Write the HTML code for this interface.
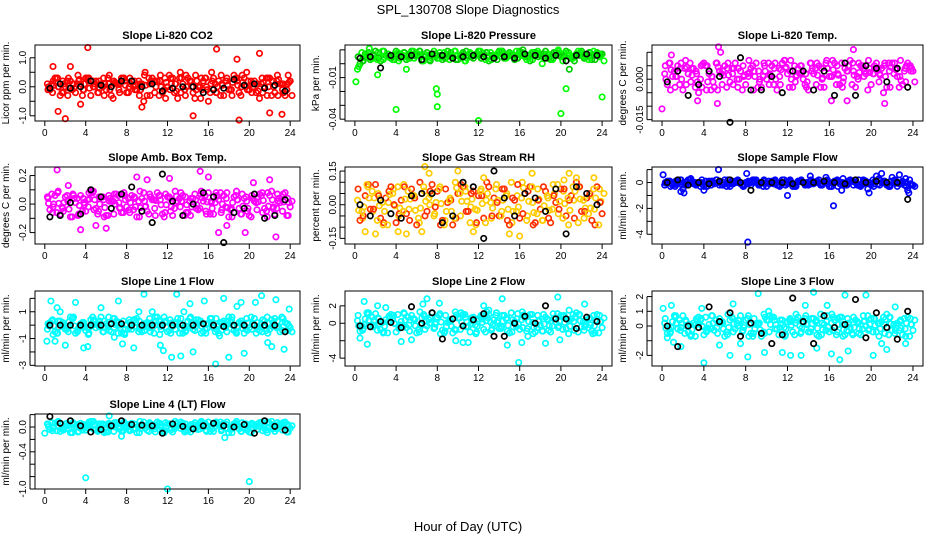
<!DOCTYPE html>
<html><head><meta charset="utf-8"><style>
html,body{margin:0;padding:0;background:#fff;}
svg{display:block;font-family:"Liberation Sans",Arial,sans-serif;}
</style></head><body>
<svg id="chart" width="936" height="540" viewBox="0 0 936 540">
<text x="468" y="14" text-anchor="middle" font-size="13">SPL_130708  Slope Diagnostics</text>
<text x="468" y="531" text-anchor="middle" font-size="13">Hour of Day (UTC)</text>
</svg>
<script>
// ---- data ----
const xTicks=[0,4,8,12,16,20,24];
const hoursAB=[];for(let i=0;i<48;i++)hoursAB.push(i*0.5+0.25);
const hoursK=[];for(let i=0;i<24;i++)hoursK.push(i+0.5);

const co2A=[0.1,-0.2,0.3,0.2,-0.3,0.1,0.4,-0.1,0.2,0.0,-0.2,0.3,0.1,0.2,-0.1,0.3,0.0,0.2,-0.3,0.4,0.1,-0.2,0.2,0.3,-0.1,0.1,0.5,-0.3,0.2,0.4,-0.4,0.3,0.1,-0.2,0.4,0.2,-0.1,0.3,0.0,0.5,-0.2,0.1,0.3,-0.3,0.2,0.4,-0.1,0.1];
const co2B=[-0.1,0.3,-0.3,0.0,0.2,-0.2,0.1,0.3,-0.3,0.2,0.1,-0.1,-0.3,0.1,0.3,-0.2,0.2,-0.1,0.1,-0.3,0.3,0.2,-0.2,0.0,0.3,-0.4,0.1,0.3,-0.2,0.0,0.2,-0.5,0.3,0.2,-0.3,-0.1,0.4,-0.2,0.3,-0.1,0.2,-0.4,0.0,0.3,-0.2,0.1,-0.3,0.2];
const co2OutX=[4.2,16.8,21,19,2,9.5,14.5,1.3,22,23.2,3.5,18.8,0.8,2.5];
const co2OutY=[1.35,1.3,1.15,-1.15,-1.1,-0.7,-1.0,-0.85,-0.9,-0.95,-0.6,0.95,0.7,0.7];
const co2K=[-0.05,0.1,-0.05,0.0,0.2,0.05,0.0,0.2,0.2,0.0,0.1,-0.15,-0.05,0.0,0.0,-0.2,-0.1,-0.05,0.25,0.05,0.1,-0.05,0.05,-0.15];

const prA=[-0.004,0.002,0.006,0.004,0.008,0.003,0.007,0.005,0.002,0.008,0.006,0.004,0.009,0.005,0.003,0.007,0.008,0.004,0.006,0.009,0.005,0.002,0.007,0.006,0.004,0.008,0.003,0.006,0.009,0.005,0.007,0.004,0.008,0.006,0.003,0.009,0.005,0.007,0.004,0.010,0.006,0.008,0.005,0.007,0.004,0.008,0.006,0.005];
const prB=[0.000,0.007,0.003,0.009,0.002,0.006,0.004,0.009,0.006,0.003,0.009,0.007,0.002,0.008,0.006,0.004,0.003,0.009,0.005,0.003,0.008,0.006,0.004,0.009,0.007,0.002,0.006,0.009,0.004,0.008,0.003,0.009,0.005,0.002,0.008,0.006,0.009,0.003,0.008,0.005,0.009,0.004,0.007,0.009,0.006,0.003,0.008,0.007];
const prOutX=[0.1,4,8,8,7.9,12,20,20.5,24,1.4,5,2.2];
const prOutY=[-0.013,-0.033,-0.031,-0.022,-0.018,-0.041,-0.036,-0.018,-0.024,0.011,-0.004,-0.008];
const prK=[0.004,0.005,-0.003,0.006,0.005,0.006,0.003,0.007,0.006,0.004,0.005,0.006,0.005,0.004,0.005,0.004,0.007,0.006,0.004,0.006,0.002,0.006,0.007,0.006];

const tA=[0.002,0.006,-0.003,0.004,0.007,-0.001,0.003,0.005,-0.004,0.001,0.006,-0.002,0.004,0.002,-0.003,0.005,0.001,-0.004,0.003,0.006,-0.002,0.004,0.001,0.007,0.003,-0.001,0.005,0.002,0.006,-0.002,0.004,0.007,0.001,0.005,-0.003,0.003,0.006,0.000,0.004,0.007,0.002,-0.001,0.005,0.003,0.006,0.001,0.004,0.005];
const tB=[-0.002,0.001,0.005,-0.004,0.002,0.004,-0.005,0.006,0.002,-0.003,0.003,0.005,-0.001,0.006,0.003,-0.002,0.004,0.006,-0.003,0.000,0.005,-0.004,0.006,0.002,-0.003,0.004,0.000,-0.004,0.002,0.005,-0.003,0.001,0.006,-0.002,0.004,0.007,-0.003,0.005,0.002,-0.002,0.006,0.004,-0.003,0.006,0.001,-0.002,0.006,0.003];
const tOutX=[0,5.4,0.9,5.6,18.3,21.3,3.4,5.3,16.2,17.7];
const tOutY=[-0.011,0.012,0.009,0.010,0.011,-0.009,-0.008,-0.009,-0.008,-0.008];
const tK=[-0.001,0.003,-0.006,-0.002,0.003,0.001,-0.016,0.008,-0.004,-0.004,0.001,-0.005,0.003,0.003,-0.004,0.003,-0.006,0.006,-0.006,0.005,0.004,-0.001,0.004,-0.003];

const abA=[0.05,-0.06,0.08,-0.03,0.02,0.07,-0.08,0.04,-0.02,0.09,-0.05,0.03,0.06,-0.07,0.01,0.08,-0.04,0.05,-0.09,0.02,0.07,-0.03,0.06,-0.06,0.04,0.09,-0.02,0.05,-0.08,0.03,0.07,-0.05,0.01,0.08,-0.06,0.04,-0.03,0.09,-0.07,0.02,0.06,-0.04,0.08,-0.09,0.03,0.07,-0.05,0.04];
const abB=[-0.04,0.06,-0.07,0.05,-0.09,0.01,0.06,-0.05,0.09,-0.03,0.05,-0.08,0.02,0.07,-0.06,-0.02,0.06,-0.09,0.04,-0.05,0.03,0.08,-0.07,0.05,-0.08,0.02,0.06,-0.06,0.04,-0.04,0.02,0.08,-0.07,0.03,0.06,-0.09,0.05,-0.03,0.04,-0.08,0.02,0.07,-0.03,0.06,-0.07,0.01,0.08,-0.02];
const abOutX=[1.2,3.5,5,6,9,10,15.2,16,17,19.6,22,22.6,2.3,12.2,17.8,20.4];
const abOutY=[0.24,-0.18,-0.15,-0.17,0.19,0.17,0.23,0.19,-0.2,-0.2,0.17,-0.23,0.13,0.18,-0.15,0.15];
const abK=[-0.09,-0.08,0.01,-0.07,0.1,0.05,-0.03,0.07,0.12,-0.05,-0.13,0.21,0.02,-0.08,0.0,0.08,0.05,-0.27,-0.06,-0.03,0.07,-0.1,-0.08,0.03];

const rhA=[0.02,-0.06,0.08,-0.03,0.05,-0.09,0.01,0.07,-0.05,0.09,-0.02,0.04,-0.08,0.06,0.0,-0.04,0.08,-0.07,0.03,0.1,-0.05,0.06,-0.01,-0.09,0.07,0.02,-0.06,0.09,-0.03,0.05,-0.08,0.04,0.1,-0.05,0.01,0.07,-0.07,0.03,0.09,-0.04,0.06,-0.09,0.02,0.08,-0.06,0.04,-0.02,0.07];
const rhB=[-0.07,0.04,-0.02,0.09,-0.06,0.03,0.08,-0.08,0.02,-0.04,0.07,-0.09,0.05,-0.03,0.09,0.06,-0.07,0.01,-0.09,0.05,0.08,-0.03,0.06,0.04,-0.06,0.08,0.03,-0.05,0.07,-0.09,0.02,-0.06,0.05,0.08,-0.08,-0.02,0.06,-0.08,0.01,0.07,-0.05,0.04,0.1,-0.03,0.03,-0.07,0.08,-0.04];
const rhOutX=[1,2,4.2,5,6.5,6.8,7.2,10,11.5,12.5,15,16,17.2,20.8,21.5,23.2,20.3];
const rhOutY=[-0.12,-0.13,-0.12,-0.13,-0.12,0.17,0.14,0.15,-0.12,0.12,-0.13,-0.14,0.14,0.14,0.12,0.12,0.11];
const rhK=[0.0,-0.05,0.02,-0.04,-0.06,0.04,0.05,0.05,-0.08,-0.05,0.1,0.08,-0.15,0.15,0.03,-0.05,0.05,0.03,-0.03,0.07,-0.13,0.08,0.05,0.0];

const sfA=[-0.2,0.1,-0.3,0.2,-0.1,0.3,-0.2,0.0,-0.3,0.1,0.2,-0.2,0.0,-0.1,0.2,-0.3,0.1,0.0,-0.2,0.2,-0.1,0.1,-0.3,0.0,0.2,-0.2,0.1,-0.1,0.2,0.0,-0.2,0.1,-0.3,0.2,0.0,-0.1,0.1,-0.2,0.2,0.0,-0.3,0.3,0.1,-0.2,0.2,-0.1,0.0,-0.1];
const sfB=[0.1,-0.2,0.0,-0.5,0.2,-0.1,0.0,-0.3,0.1,-0.1,-0.2,0.2,-0.3,0.1,-0.1,0.0,-0.2,0.2,0.0,-0.3,0.1,-0.2,0.2,-0.1,-0.3,0.1,0.0,-0.2,-0.1,0.2,0.0,-0.3,0.1,-0.1,-0.2,0.2,0.0,-0.3,0.1,-0.2,0.5,0.0,-0.2,0.4,-0.3,0.1,-0.6,-0.2];
const sfOutX=[0.1,1.8,2.1,4,5.4,8.2,8.1,12,16.4,19.8,23.6,22.7,21];
const sfOutY=[0.6,-0.7,-0.8,-0.6,1.0,-4.6,0.7,-1.0,-1.8,-0.8,-0.8,0.6,0.7];
const sfK=[0.0,0.2,-0.2,0.0,-0.1,0.1,0.2,0.0,-0.6,0.0,0.0,0.0,-0.1,0.0,0.0,0.1,0.0,-0.1,0.2,0.0,0.1,0.0,0.0,-1.3];

const l1A=[-0.3,0.4,-0.6,0.2,-0.1,0.5,-0.4,0.1,-0.7,0.3,0.0,-0.5,0.6,-0.2,0.2,-0.6,0.4,-0.1,0.3,-0.4,0.5,0.0,-0.7,0.2,0.4,-0.3,0.1,-0.5,0.6,-0.1,0.3,-0.6,0.2,0.5,-0.4,0.0,0.4,-0.6,0.1,0.5,-0.3,0.2,-0.5,0.6,-0.1,0.3,-0.4,0.1];
const l1B=[0.2,-0.5,0.3,-0.3,0.6,-0.6,0.1,-0.4,0.4,-0.2,0.6,0.1,-0.5,0.3,-0.6,0.0,-0.3,0.5,-0.5,0.2,-0.2,0.6,0.1,-0.5,-0.1,0.5,-0.6,0.3,-0.3,0.4,-0.5,0.1,-0.2,-0.6,0.3,0.6,-0.4,0.2,-0.6,-0.2,0.5,-0.4,0.3,-0.3,0.5,-0.5,0.2,-0.2];
const l1OutX=[0.2,0.6,1,1.2,2,3,3.8,4.2,5.5,7.2,7.6,8.7,9.7,10.5,11.3,12.4,12.9,13.3,14.2,14.5,15.6,16.7,17.5,18,18.8,19.5,20.6,21.2,22.2,22.6,23.4,23.9,11.6,1.5,6.8,9.2,13.6,17.1,19.2,21.8];
const l1OutY=[-1.2,1.8,-1.2,1.3,-1.5,1.7,-1.7,-1.6,1.3,1.8,-1.4,-1.7,2.3,1.0,-1.5,-2.4,2.3,-2.3,1.6,-2.0,1.8,-2.9,2.0,-2.4,1.4,-2.1,1.7,2.2,-1.6,1.9,-1.8,1.2,-1.9,1.0,-0.9,1.0,1.0,-0.8,1.7,-1.3];
const l1K=[0.0,0.0,0.0,0.0,0.0,0.0,0.1,0.1,0.0,0.0,0.0,0.0,0.0,0.0,0.0,0.1,0.0,-0.1,0.0,0.0,0.0,0.0,0.0,-0.5];

const l2A=[0.3,-0.8,1.0,-0.4,0.6,-1.1,0.2,0.9,-0.6,1.2,-0.2,0.5,-1.0,0.8,0.0,-0.5,1.1,-0.9,0.4,1.3,-0.7,0.7,-0.1,-1.2,0.9,0.3,-0.8,1.2,-0.4,0.6,-1.0,0.5,1.3,-0.6,0.1,0.9,-0.9,0.4,1.1,-0.5,0.8,-1.2,0.2,1.0,-0.8,0.5,-0.3,0.9];
const l2B=[-0.9,0.5,-0.3,1.1,-0.7,0.4,1.0,-1.0,0.2,-0.5,0.9,-1.1,0.6,-0.3,1.2,0.7,-0.8,0.1,-1.1,0.6,1.0,-0.4,0.7,0.5,-0.7,1.0,0.4,-0.6,0.9,-1.1,0.2,-0.7,0.6,1.0,-1.0,-0.2,0.7,-1.0,0.1,0.9,-0.6,0.5,1.2,-0.4,0.4,-0.9,1.0,-0.5];
const l2OutX=[0.9,1.2,0.5,2.2,3,5.5,6.6,7,8.2,9.8,10.5,13,14.3,14.8,15.9,16.2,16.8,19.7,19.9,20.8,22.3,23.1,12.5,4.5,11.0,18.5];
const l2OutY=[2.5,-2.4,-1.7,2.0,1.8,-1.9,2.2,2.8,2.3,-2.0,-2.2,1.5,2.8,-2.5,-4.5,-2.2,-1.5,3.0,-1.9,1.5,2.2,-1.2,2.0,-2.1,-2.2,-2.3];
const l2K=[-0.3,-0.4,0.2,0.1,-0.5,1.9,0.0,1.2,-1.8,0.5,-0.3,0.4,1.1,-1.5,-1.5,0.0,0.8,0.0,2.0,0.5,0.5,-0.6,0.7,0.2];

const l3A=[0.2,-0.5,0.6,-0.3,0.4,-0.7,0.1,0.5,-0.4,0.7,-0.1,0.3,-0.6,0.5,0.0,-0.3,0.7,-0.5,0.2,0.8,-0.4,0.4,-0.1,-0.7,0.5,0.2,-0.5,0.7,-0.2,0.4,-0.6,0.3,0.8,-0.4,0.1,0.5,-0.6,0.2,0.7,-0.3,0.5,-0.7,0.1,0.6,-0.5,0.3,-0.2,0.5];
const l3B=[-0.5,0.3,-0.2,0.7,-0.4,0.2,0.6,-0.6,0.1,-0.3,0.5,-0.7,0.4,-0.2,0.7,0.4,-0.5,0.1,-0.7,0.4,0.6,-0.2,0.4,0.3,-0.4,0.6,0.2,-0.4,0.5,-0.7,0.1,-0.4,0.4,0.6,-0.6,-0.1,0.4,-0.6,0.0,0.5,-0.4,0.3,0.8,-0.3,0.2,-0.6,0.6,-0.3];
const l3OutX=[0.1,0.5,1.1,1.8,3.8,4,5.5,6.5,6.8,8.2,9.2,9.8,10.2,11.5,12.3,13.3,13.7,14.5,14.8,15.8,16.2,17,17.5,17.8,19.5,20.2,21,22.3,21.5,23.3,0.9,7.5];
const l3OutY=[1.2,-0.8,-1.1,-1.4,1.2,-2.5,-1.3,-2.0,1.5,-2.1,2.2,-1.8,1.0,-1.8,-2.0,-2.0,1.4,2.3,-1.5,1.4,-1.9,-2.3,2.1,-1.7,2.1,-2.0,-1.2,1.3,-1.6,-1.2,1.4,-1.2];
const l3K=[0.0,-1.4,0.0,-0.1,1.3,0.3,0.9,-0.7,0.2,-0.5,-1.2,-0.6,1.9,0.3,-1.2,0.7,-0.1,0.1,1.8,-0.8,0.9,-0.1,-0.9,1.0];

const l4A=[0.05,-0.06,0.08,-0.03,0.02,0.07,-0.08,0.04,-0.02,0.09,-0.05,0.03,0.06,-0.07,0.01,0.08,-0.04,0.05,-0.09,0.02,0.07,-0.03,0.06,-0.06,0.04,0.09,-0.02,0.05,-0.08,0.03,0.07,-0.05,0.01,0.08,-0.06,0.04,-0.03,0.09,-0.07,0.02,0.06,-0.04,0.08,-0.09,0.03,0.07,-0.05,0.04];
const l4B=[-0.04,0.06,-0.07,0.05,-0.09,0.01,0.06,-0.05,0.09,-0.03,0.05,-0.08,0.02,0.07,-0.06,-0.02,0.06,-0.09,0.04,-0.05,0.03,0.08,-0.07,0.05,-0.08,0.02,0.06,-0.06,0.04,-0.04,0.02,0.08,-0.07,0.03,0.06,-0.09,0.05,-0.03,0.04,-0.08,0.02,0.07,-0.03,0.06,-0.07,0.01,0.08,-0.02];
const l4OutX=[4,12,20,0,6.3,7.5,17.6];
const l4OutY=[-0.82,-1.0,-0.88,-0.1,0.18,-0.15,-0.17];
const l4K=[0.17,0.06,0.1,0.02,-0.08,-0.04,0.02,0.1,0.04,0.03,0.02,-0.1,0.05,0.01,-0.03,0.02,0.06,0.02,0.0,0.04,-0.1,0.1,0.01,-0.05];

// ---- panel layout ----
const panels=[
 {id:'co2',title:'Slope Li-820 CO2',ylab:'Licor ppm per min.',L:35,R:300,T:45,B:121,ymin:-1.18,ymax:1.44,ticks:[-1,-0.5,0,0.5,1],labels:[[-1,'-1.0'],[0,'0.0'],[1,'1.0']],col:'#ff0000',col2:'#ff0000',A:co2A,Bv:co2B,OX:co2OutX,OY:co2OutY,K:co2K},
 {id:'pressure',title:'Slope Li-820 Pressure',ylab:'kPa per min.',L:345,R:612,T:45,B:121,ymin:-0.0413,ymax:0.0135,ticks:[0.01,0,-0.01,-0.02,-0.03,-0.04],labels:[[-0.01,'-0.01'],[-0.04,'-0.04']],col:'#00ff00',col2:'#00cc00',A:prA,Bv:prB,OX:prOutX,OY:prOutY,K:prK},
 {id:'li820-temp',title:'Slope Li-820 Temp.',ylab:'degrees C per min.',L:652,R:923,T:45,B:121,ymin:-0.0155,ymax:0.0127,ticks:[0.01,0.005,0,-0.005,-0.01,-0.015],labels:[[0,'0.000'],[-0.015,'-0.015']],col:'#ff00ff',col2:'#ff00ff',A:tA,Bv:tB,OX:tOutX,OY:tOutY,K:tK},
 {id:'amb-box-temp',title:'Slope Amb. Box Temp.',ylab:'degrees C per min.',L:35,R:300,T:167,B:244,ymin:-0.28,ymax:0.26,ticks:[-0.2,-0.1,0,0.1,0.2],labels:[[-0.2,'-0.2'],[0,'0.0'],[0.2,'0.2']],col:'#ff00ff',col2:'#ff00ff',A:abA,Bv:abB,OX:abOutX,OY:abOutY,K:abK},
 {id:'gas-rh',title:'Slope Gas Stream RH',ylab:'percent per min.',L:345,R:612,T:167,B:244,ymin:-0.175,ymax:0.168,ticks:[-0.15,-0.1,-0.05,0,0.05,0.1,0.15],labels:[[-0.15,'-0.15'],[0,'0.00'],[0.15,'0.15']],col:'#ffcc00',col2:'#ff3000',A:rhA,Bv:rhB,OX:rhOutX,OY:rhOutY,K:rhK},
 {id:'sample-flow',title:'Slope Sample Flow',ylab:'ml/min per min.',L:652,R:923,T:167,B:244,ymin:-4.75,ymax:1.2,ticks:[-4,-3,-2,-1,0,1],labels:[[-4,'-4'],[-2,'-2'],[0,'0']],col:'#0000ff',col2:'#0000ff',A:sfA,Bv:sfB,OX:sfOutX,OY:sfOutY,K:sfK},
 {id:'line1-flow',title:'Slope Line 1 Flow',ylab:'ml/min per min.',L:35,R:300,T:291,B:366,ymin:-3.05,ymax:2.55,ticks:[-3,-2,-1,0,1,2],labels:[[-3,'-3'],[-1,'-1'],[1,'1']],col:'#00ffff',col2:'#00ffff',A:l1A,Bv:l1B,OX:l1OutX,OY:l1OutY,K:l1K},
 {id:'line2-flow',title:'Slope Line 2 Flow',ylab:'ml/min per min.',L:345,R:612,T:291,B:366,ymin:-4.9,ymax:3.7,ticks:[-4,-2,0,2],labels:[[-4,'-4'],[0,'0'],[2,'2']],col:'#00ffff',col2:'#00ffff',A:l2A,Bv:l2B,OX:l2OutX,OY:l2OutY,K:l2K},
 {id:'line3-flow',title:'Slope Line 3 Flow',ylab:'ml/min per min.',L:652,R:923,T:291,B:366,ymin:-2.72,ymax:2.38,ticks:[-2,-1,0,1,2],labels:[[-2,'-2'],[0,'0'],[1,'1'],[2,'2']],col:'#00ffff',col2:'#00ffff',A:l3A,Bv:l3B,OX:l3OutX,OY:l3OutY,K:l3K},
 {id:'line4-flow',title:'Slope Line 4 (LT) Flow',ylab:'ml/min per min.',L:35,R:300,T:414,B:489,ymin:-1.0,ymax:0.21,ticks:[-1,-0.8,-0.6,-0.4,-0.2,0,0.2],labels:[[-1,'-1.0'],[-0.4,'-0.4'],[0,'0.0']],col:'#00ffff',col2:'#00ffff',A:l4A,Bv:l4B,OX:l4OutX,OY:l4OutY,K:l4K}
];

const svg=document.getElementById('chart');
const NS='http://www.w3.org/2000/svg';
function mk(tag,attrs,parent){const e=document.createElementNS(NS,tag);for(const k in attrs)e.setAttribute(k,attrs[k]);parent.appendChild(e);return e;}

panels.forEach(p=>{
  const g=mk('g',{},svg);
  
  
  const xs=h=>p.L+(h+0.96)/25.92*(p.R-p.L);
  const ys=v=>p.B-(v-p.ymin)/(p.ymax-p.ymin)*(p.B-p.T);
  const t=mk('text',{x:(p.L+p.R)/2,y:p.T-6,'text-anchor':'middle','font-size':'11','font-weight':'bold'},g);
  t.textContent=p.title;
  
  
  const yl=mk('text',{x:0,y:0,'text-anchor':'middle','font-size':'10',transform:`translate(${p.L-26},${(p.T+p.B)/2}) rotate(-90)`},g);
  yl.textContent=p.ylab;
  
  
  const pts=mk('g',{fill:'none','stroke-width':'1.7'},g);
  
  
  function dot(h,v,c){const cy=ys(v);if(cy<p.T-3||cy>p.B+3)return;const e=mk('circle',{cx:xs(h).toFixed(1),cy:cy.toFixed(1),r:'2.7',stroke:c},pts);
    
    }
  const n=p.A.length;
  hoursAB.forEach((h,i)=>dot(h,p.A[i],p.col));
  hoursAB.forEach((h,i)=>dot(h+0.25,p.Bv[i],p.col2));
  hoursAB.forEach((h,i)=>dot(h+0.12,(p.A[i]+p.Bv[i])/2,p.col));
  hoursAB.forEach((h,i)=>dot(h+0.06,p.A[(i+7)%n],p.col2));
  hoursAB.forEach((h,i)=>dot(h+0.43,p.Bv[(i+13)%n],p.col));
  p.OX.forEach((h,i)=>dot(h,p.OY[i],p.col));
  hoursK.forEach((h,i)=>dot(h,p.K[i],'#000000'));
  const box=mk('rect',{x:p.L,y:p.T,width:p.R-p.L,height:p.B-p.T,fill:'none',stroke:'#000','stroke-width':'1'},g);
  
  
  const xa=mk('g',{},g);
  
  
  mk('line',{x1:xs(0),x2:xs(24),y1:p.B,y2:p.B,stroke:'#000'},xa);
  xTicks.forEach(v=>{mk('line',{x1:xs(v),x2:xs(v),y1:p.B,y2:p.B+5,stroke:'#000'},xa);
    const tl=mk('text',{x:xs(v),y:p.B+15,'text-anchor':'middle','font-size':'10'},xa);tl.textContent=v;});
  const ya=mk('g',{},g);
  
  
  const tv=p.ticks.map(ys);
  mk('line',{x1:p.L-5,x2:p.L-5,y1:Math.min(...tv),y2:Math.max(...tv),stroke:'#000'},ya);
  p.ticks.forEach(v=>mk('line',{x1:p.L-5,x2:p.L,y1:ys(v),y2:ys(v),stroke:'#000'},ya));
  p.labels.forEach(([v,s])=>{const tl=mk('text',{x:0,y:0,'text-anchor':'middle','font-size':'10',transform:`translate(${p.L-9},${ys(v)}) rotate(-90)`},ya);tl.textContent=s;});
});
</script>
</body></html>
